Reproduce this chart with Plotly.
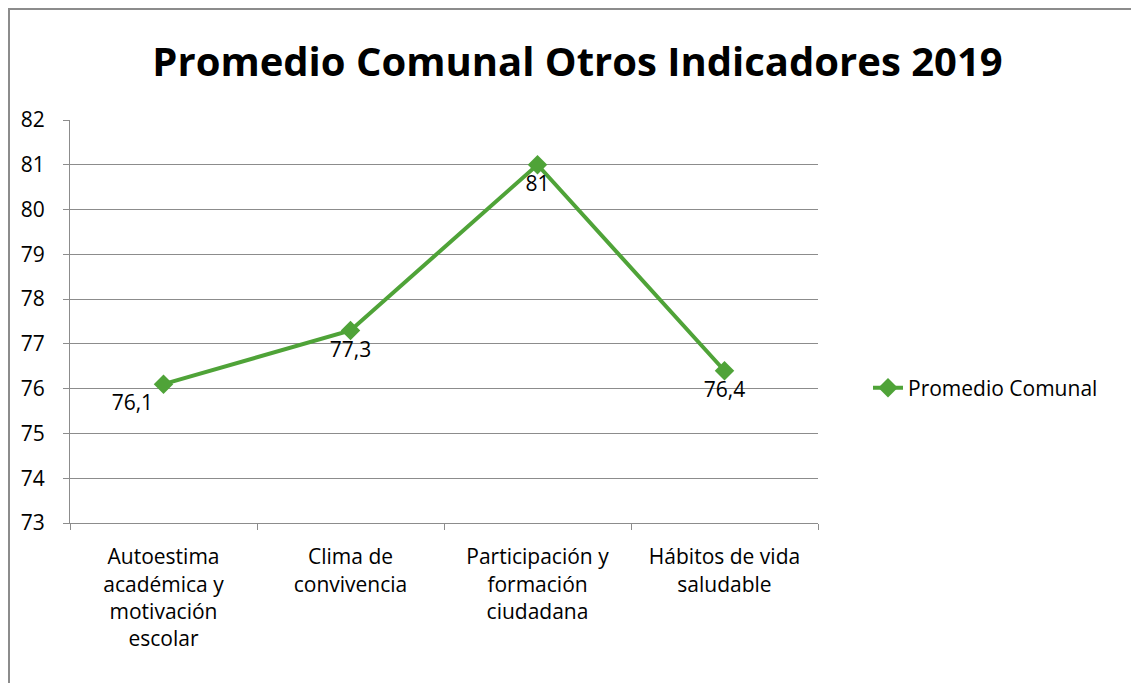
import plotly.graph_objects as go

categories = [
    "Autoestima<br>académica y<br>motivación<br>escolar",
    "Clima de<br>convivencia",
    "Participación y<br>formación<br>ciudadana",
    "Hábitos de vida<br>saludable",
]
promedio_comunal = [76.1, 77.3, 81, 76.4]
y_ticks = list(range(73, 83))

labels = [f"{v:g}".replace(".", ",") for v in promedio_comunal]
label_pos = ["bottom left", "bottom center", "bottom center", "bottom center"]

GREEN = "#4FA338"
GRID = "#8c8c8c"
FONT = "Open Sans, Calibri, sans-serif"

fig = go.Figure()
fig.add_trace(go.Scatter(
    x=categories,
    y=promedio_comunal,
    mode="lines+markers+text",
    name="Promedio Comunal",
    text=labels,
    textposition=label_pos,
    textfont=dict(size=21, color="black", family=FONT),
    line=dict(color=GREEN, width=4),
    marker=dict(symbol="diamond", size=15, color=GREEN),
))

# the page body has an 8px margin; plot area on the page is x 70..818, y 120..523
L, R, T, B = 62, 329, 112, 168
W, H = 1139 - L - R, 683 - T - B

fig.update_layout(
    width=1139,
    height=683,
    margin=dict(l=L, r=R, t=T, b=B),
    paper_bgcolor="white",
    plot_bgcolor="white",
    font=dict(family=FONT, size=21, color="black"),
    title=dict(
        text="<b>Promedio Comunal Otros Indicadores 2019</b>",
        x=0.5, xanchor="center", xref="container",
        y=1 - 54 / 683, yanchor="middle", yref="container",
        font=dict(size=40, family=FONT, color="black"),
    ),
    showlegend=True,
    legend=dict(
        x=(868 - 70) / W, xanchor="left",
        y=(523 - 388) / H, yanchor="middle",
        font=dict(size=21, family=FONT),
        bgcolor="rgba(0,0,0,0)",
    ),
    shapes=[dict(
        type="rect", xref="paper", yref="paper",
        x0=(1 - L) / W, x1=(1160 - L) / W,
        y0=(683 - B - 700) / H, y1=(683 - B - 1) / H,
        line=dict(color="#8c8c8c", width=2),
        fillcolor="rgba(0,0,0,0)", layer="below",
    )],
)

fig.update_xaxes(
    type="category",
    showgrid=False,
    showline=True, linecolor=GRID, linewidth=1.3,
    ticks="outside", tickson="boundaries", ticklen=6, tickcolor=GRID,
    tickfont=dict(size=21, family=FONT),
    ticklabelstandoff=15,
    range=[-0.5, 3.5],
)
fig.update_yaxes(
    range=[73, 82],
    tickvals=y_ticks,
    showgrid=True, gridcolor=GRID, gridwidth=1.3,
    showline=True, linecolor=GRID, linewidth=1.3,
    ticks="outside", ticklen=6, tickcolor=GRID,
    tickfont=dict(size=21, family=FONT),
    ticklabelstandoff=14,
    zeroline=False,
)

fig.write_html("out.html")
